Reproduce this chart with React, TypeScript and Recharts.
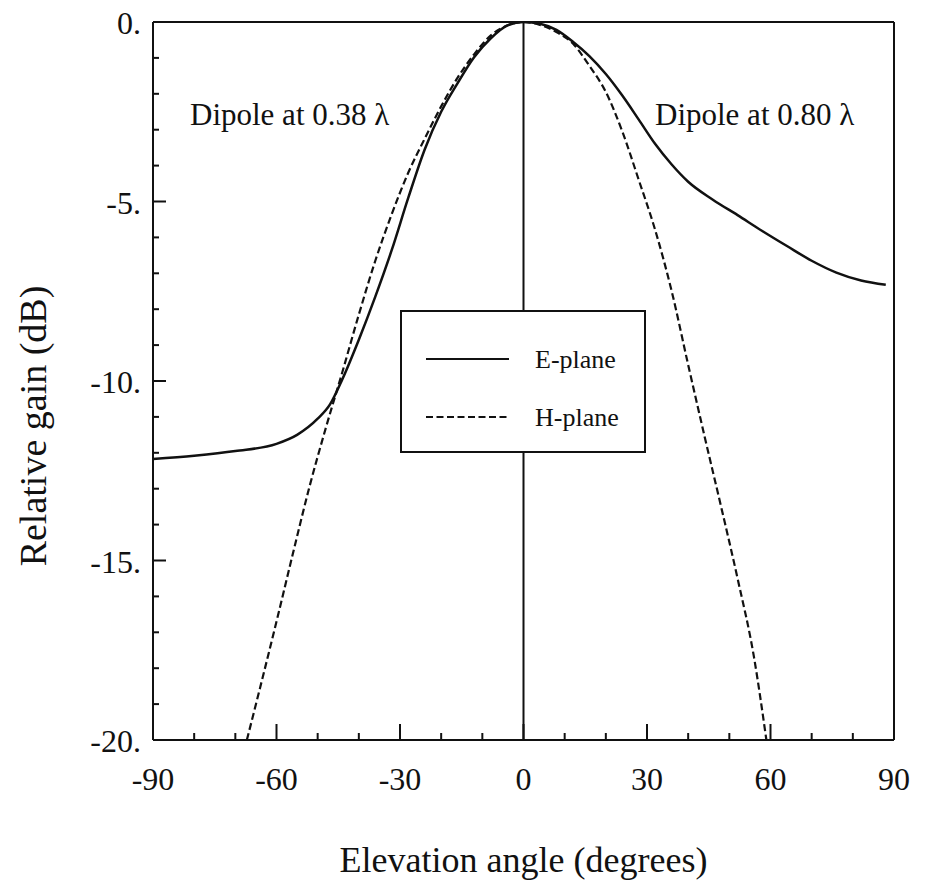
import { LineChart, Line, XAxis, YAxis, ReferenceLine, Legend, Customized } from 'recharts'

// E-plane (solid): left half 0.38 wavelength dipole, right half 0.80 wavelength
const eAngles = [-90, -80, -70, -60, -55, -50, -47, -44, -40, -36, -32, -28, -24, -20, -16, -12, -8, -4, 0, 4, 8, 12, 16, 20, 24, 28, 32, 36, 40, 46, 52, 58, 64, 70, 76, 82, 88]
const eGain = [-12.17, -12.08, -11.95, -11.75, -11.5, -11.05, -10.65, -9.95, -8.85, -7.65, -6.35, -4.9, -3.55, -2.5, -1.7, -0.98, -0.46, -0.1, 0, -0.05, -0.22, -0.55, -0.95, -1.45, -2.05, -2.72, -3.4, -3.97, -4.45, -4.95, -5.38, -5.82, -6.24, -6.65, -6.98, -7.2, -7.32]

// H-plane (dashed)
const hAngles = [-67.2, -64, -60, -56, -52, -48, -44, -40, -36, -32, -28, -24, -20, -16, -12, -8, -4, 0, 4, 8, 12, 16, 20, 24, 28, 32, 36, 40, 44, 48, 52, 56, 59]
const hGain = [-20, -18.55, -16.7, -14.8, -12.95, -11.3, -9.75, -8.15, -6.65, -5.35, -4.2, -3.25, -2.35, -1.55, -0.9, -0.38, -0.1, 0, -0.08, -0.28, -0.6, -1.22, -1.95, -3.05, -4.4, -5.8, -7.5, -9.55, -11.55, -13.5, -15.5, -17.7, -20]

const xTicks = [-90, -80, -70, -60, -50, -40, -30, -20, -10, 0, 10, 20, 30, 40, 50, 60, 70, 80, 90]
const yTicks = [0, -1, -2, -3, -4, -5, -6, -7, -8, -9, -10, -11, -12, -13, -14, -15, -16, -17, -18, -19, -20]

const seriesNames = ['E-plane', 'H-plane']
const seriesDash = ['', '7 3.5']

const eData = eAngles.map((angle, i) => ({ angle, gain: eGain[i] }))
const hData = hAngles.map((angle, i) => ({ angle, gain: hGain[i] }))

const INK = '#111'
const SERIF = 'Liberation Serif'

const BottomTick = ({ x, y, payload }: any) => {
  const major = payload.value % 30 === 0
  return (
    <g>
      <line x1={x} y1={y} x2={x} y2={y - (major ? 16 : 7)} stroke={INK} strokeWidth={2} />
      {major && (
        <text x={x} y={y + 50} textAnchor="middle" fontFamily={SERIF} fontSize={32} fill={INK}>
          {payload.value}
        </text>
      )}
    </g>
  )
}

const TopTick = ({ x, y, payload }: any) => {
  const major = payload.value % 30 === 0
  return <line x1={x} y1={y} x2={x} y2={y + (major ? 16 : 7)} stroke={INK} strokeWidth={2} />
}

const LeftTick = ({ x, y, payload }: any) => {
  const major = payload.value % 5 === 0
  return (
    <g>
      <line x1={x} y1={y} x2={x + (major ? 13 : 6)} y2={y} stroke={INK} strokeWidth={2} />
      {major && (
        <text x={x - 12} y={y + 12} textAnchor="end" fontFamily={SERIF} fontSize={32} fill={INK}>
          {payload.value === 0 ? '0.' : `${payload.value}.`}
        </text>
      )}
    </g>
  )
}

const RightTick = ({ x, y, payload }: any) => {
  const major = payload.value % 5 === 0
  return <line x1={x} y1={y} x2={x - (major ? 13 : 6)} y2={y} stroke={INK} strokeWidth={2} />
}

const renderLegend = () => (
  <div style={{ width: 246, height: 143, boxSizing: 'border-box', border: `2px solid ${INK}`, background: '#fff' }}>
    <svg width={242} height={139}>
      {seriesNames.map((name, i) => (
        <g key={name}>
          <line x1={24} x2={107} y1={47 + i * 58} y2={47 + i * 58} stroke={INK} strokeWidth={2} strokeDasharray={seriesDash[i]} />
          <text x={133} y={56 + i * 58} fontFamily={SERIF} fontSize={26} fill={INK}>{name}</text>
        </g>
      ))}
    </svg>
  </div>
)

const Annotations = () => (
  <g>
    <text x={182} y={117} fontFamily={SERIF} fontSize={31} fill={INK}>Dipole at 0.38 λ</text>
    <text x={647} y={117} fontFamily={SERIF} fontSize={31} fill={INK}>Dipole at 0.80 λ</text>
  </g>
)

export default function App() {
  return (
    <div style={{ fontFamily: SERIF }}>
      <LineChart width={910} height={872} margin={{ top: 0, right: 0, bottom: 0, left: 0 }}>
        <XAxis
          dataKey="angle"
          type="number"
          domain={[-90, 90]}
          ticks={xTicks}
          interval={0}
          height={140}
          tickSize={0}
          tickMargin={0}
          tick={<BottomTick />}
          axisLine={{ stroke: INK, strokeWidth: 2 }}
          label={{
            content: ({ viewBox }: any) => (
              <text x={viewBox.x + viewBox.width / 2} y={viewBox.y + 132} textAnchor="middle" fontFamily={SERIF} fontSize={36} fill={INK}>
                Elevation angle (degrees)
              </text>
            ),
          }}
        />
        <XAxis
          xAxisId="top"
          orientation="top"
          type="number"
          domain={[-90, 90]}
          ticks={xTicks}
          interval={0}
          height={14}
          tickSize={0}
          tickMargin={0}
          tick={<TopTick />}
          axisLine={{ stroke: INK, strokeWidth: 2 }}
        />
        <YAxis
          type="number"
          domain={[-20, 0]}
          ticks={yTicks}
          interval={0}
          width={145}
          tickSize={0}
          tickMargin={0}
          tick={<LeftTick />}
          axisLine={{ stroke: INK, strokeWidth: 2 }}
          allowDataOverflow
          label={{
            content: ({ viewBox }: any) => {
              const cy = viewBox.y + viewBox.height / 2 + 45
              return (
                <text x={38} y={cy} transform={`rotate(-90 38 ${cy})`} textAnchor="middle" fontFamily={SERIF} fontSize={38} fill={INK}>
                  Relative gain (dB)
                </text>
              )
            },
          }}
        />
        <YAxis
          yAxisId="right"
          orientation="right"
          type="number"
          domain={[-20, 0]}
          ticks={yTicks}
          interval={0}
          width={24}
          tickSize={0}
          tickMargin={0}
          tick={<RightTick />}
          axisLine={{ stroke: INK, strokeWidth: 2 }}
        />
        <ReferenceLine x={0} stroke={INK} strokeWidth={2} />
        <Line
          data={eData}
          dataKey="gain"
          name={seriesNames[0]}
          type="monotone"
          stroke={INK}
          strokeWidth={2.5}
          dot={false}
          isAnimationActive={false}
        />
        <Line
          data={hData}
          dataKey="gain"
          name={seriesNames[1]}
          type="monotone"
          stroke={INK}
          strokeWidth={2.2}
          strokeDasharray={seriesDash[1]}
          dot={false}
          isAnimationActive={false}
        />
        <Legend
          layout="vertical"
          align="center"
          verticalAlign="middle"
          content={renderLegend}
          wrapperStyle={{ left: 392, top: 302, width: 246, height: 143 }}
        />
        <Customized component={<Annotations />} />
      </LineChart>
    </div>
  )
}
